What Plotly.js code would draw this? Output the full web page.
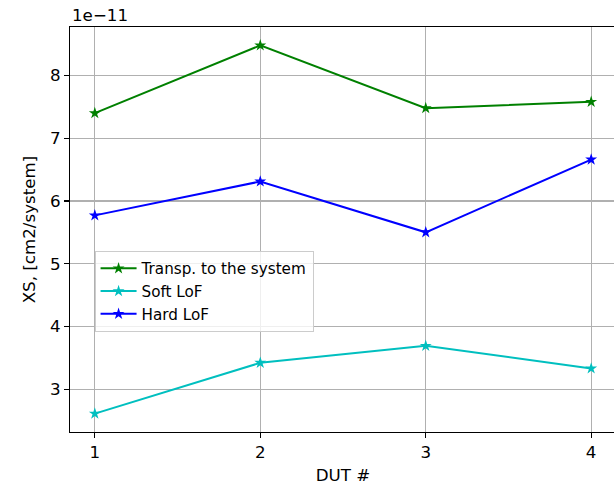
<!DOCTYPE html>
<html><head><meta charset="utf-8">
<script src="https://cdn.plot.ly/plotly-3.0.1.min.js"></script>
<style>html,body{margin:0;padding:0;overflow:hidden;background:#fff}</style>
</head><body>
<div id="chart" style="width:616px;height:485px"></div>
<script>
// Values in units of 1e-11 cm2/system
const duts = [1, 2, 3, 4];
const transp = [7.40, 8.48, 7.48, 7.58];
const softLoF = [2.61, 3.42, 3.69, 3.33];
const hardLoF = [5.77, 6.31, 5.50, 6.66];
const xTicks = [1, 2, 3, 4];
const yTicks = [3, 4, 5, 6, 7, 8];
const exponentLabel = '1e\u221211';

const font = {family: 'DejaVu Sans', color: '#000'};
function series(y, name, color) {
  return {x: duts, y: y, name: name, type: 'scatter', mode: 'lines+markers',
    line: {color: color, width: 2}, marker: {symbol: 'star', size: 9, color: color}};
}
const data = [
  series(transp, 'Transp. to the system', 'green'),
  series(softLoF, 'Soft LoF', '#00bfbf'),
  series(hardLoF, 'Hard LoF', 'blue')
];
const axisCommon = {showline: true, linecolor: '#000', linewidth: 1.1, mirror: true,
  ticks: 'outside', ticklen: 5, tickwidth: 1.1, tickcolor: '#000',
  showgrid: true, gridcolor: '#b0b0b0', gridwidth: 1.1, zeroline: false,
  tickfont: Object.assign({size: 16.7}, font)};
const layout = {
  width: 616, height: 485,
  margin: {l: 70, r: 0, t: 27, b: 53},
  paper_bgcolor: '#fff', plot_bgcolor: '#fff',
  font: font,
  xaxis: Object.assign({}, axisCommon, {range: [0.85, 4.15], tickvals: xTicks,
    title: {text: 'DUT #', font: Object.assign({size: 16.7}, font), standoff: 9}}),
  yaxis: Object.assign({}, axisCommon, {range: [2.3165, 8.7735], tickvals: yTicks,
    title: {text: 'XS, [cm2/system]', font: Object.assign({size: 16.7}, font), standoff: 10}}),
  legend: {x: 0.045, y: 0.447, xanchor: 'left', yanchor: 'top',
    bgcolor: 'rgba(255,255,255,0.8)', bordercolor: '#cccccc', borderwidth: 1,
    font: Object.assign({size: 15.2}, font), tracegroupgap: 0, itemwidth: 36},
  showlegend: true,
  annotations: [{text: exponentLabel, xref: 'paper', yref: 'paper', x: 0, y: 1,
    xanchor: 'left', yanchor: 'bottom', showarrow: false, yshift: 0,
    font: Object.assign({size: 16.7}, font)}]
};
Plotly.newPlot('chart', data, layout, {displayModeBar: false, staticPlot: true});
</script>
</body></html>
